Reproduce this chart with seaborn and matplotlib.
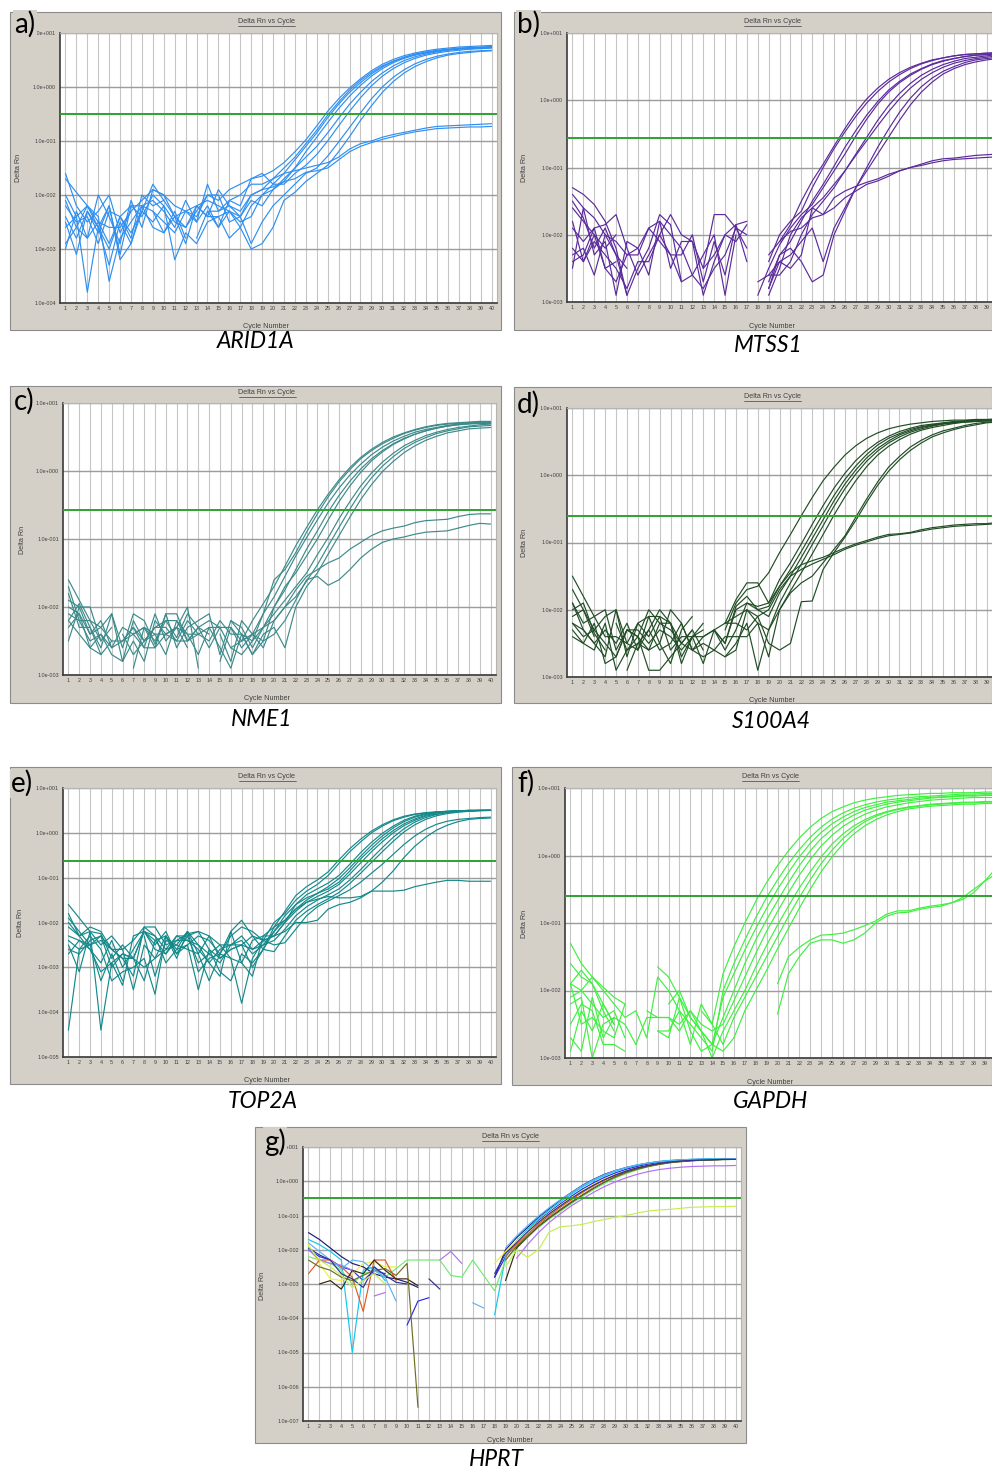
import matplotlib
matplotlib.use("Agg")
import matplotlib.pyplot as plt
from matplotlib.patches import Rectangle
from matplotlib.lines import Line2D
from matplotlib.ticker import NullLocator
import seaborn as sns
import pandas as pd

# amplification plots, values are log10(Delta Rn), None = no point

cycles = list(range(1, 41))

arid1a = [
    [-1.6, -2.2, -2.5, -2.3, -2.0, -2.7, -2.3, -2.1, -1.9, -2.0,
     -2.2, -2.3, -2.4, -2.0, -2.1, -1.9, -1.8, -1.7, -1.65, -1.55,
     -1.4, -1.2, -0.98, -0.72, -0.45, -0.22, -0.02, 0.15, 0.3, 0.42,
     0.51, 0.58, 0.63, 0.67, 0.7, 0.72, 0.74, 0.75, 0.76, 0.77],
    [-2.0, -2.4, -2.2, -2.6, -3.3, -2.5, -2.9, -2.2, -2.1, -2.3,
     -2.6, -2.1, -2.5, -1.8, -2.3, -2.2, -2.4, -2.0, -1.9, -1.7,
     -1.5, -1.3, -1.05, -0.8, -0.52, -0.28, -0.06, 0.12, 0.27, 0.39,
     0.48, 0.55, 0.6, 0.64, 0.67, 0.69, 0.71, 0.72, 0.73, 0.74],
    [-2.9, -2.6, -2.2, -2.5, -2.9, -2.4, -2.7, -2.3, -1.8, -2.1,
     None, None, -2.8, -2.3, -2.6, -2.1, -2.2, -1.7, -1.6, -1.8,
     -1.6, -1.35, -1.1, -0.85, -0.57, -0.32, -0.1, 0.08, 0.24, 0.37,
     0.47, 0.55, 0.61, 0.65, 0.68, 0.7, 0.72, 0.73, 0.74, 0.75],
    [-2.6, -2.4, -3.8, -2.6, -2.2, -3.1, -2.2, -2.4, -2.0, -2.2,
     -2.5, -2.6, -2.2, -2.1, -2.2, -2.3, -2.5, -2.4, -2.0, -1.9,
     -1.75, -1.5, -1.2, -0.93, -0.66, -0.4, -0.17, 0.03, 0.2, 0.34,
     0.45, 0.53, 0.59, 0.63, 0.66, 0.69, 0.71, 0.72, 0.73, 0.74],
    [-1.7, -1.95, -2.2, -2.4, -3.6, -2.8, -2.5, -2.2, -2.3, -2.7,
     -2.4, -2.9, -2.2, -2.4, -2.4, -2.8, -2.6, -2.2, -2.0, -1.8,
     -1.8, -1.6, -1.45, -1.25, -1.0, -0.72, -0.45, -0.2, 0.02, 0.2,
     0.34, 0.45, 0.53, 0.59, 0.63, 0.66, 0.68, 0.7, 0.71, 0.72],
    [-2.1, -2.6, -2.8, -2.5, -2.6, -2.6, -2.3, None, -2.3, -2.5,
     -2.7, -2.3, -2.5, -2.2, -2.6, -2.3, -2.4, -2.9, -2.5, -2.2,
     -2.0, -1.8, -1.6, -1.5, -1.28, -1.02, -0.75, -0.48, -0.22, 0.0,
     0.18, 0.32, 0.43, 0.51, 0.57, 0.61, 0.64, 0.66, 0.67, 0.68],
    [-2.4, -2.8, -2.3, -2.7, -2.2, -3.2, -2.9, -2.3, -2.5, -2.2,
     -3.2, -2.7, -2.9, -2.5, -2.4, -2.3, -2.6, -3.0, -2.9, -2.6,
     -2.1, -1.95, -1.75, -1.6, -1.45, -1.2, -0.92, -0.62, -0.35, -0.1,
     0.1, 0.26, 0.38, 0.47, 0.54, 0.59, 0.62, 0.64, 0.66, 0.67],
    [-3.0, -2.3, -2.8, -2.0, -2.4, -2.9, -2.1, -2.6, -1.9, -2.0,
     -2.4, -2.6, -2.3, -2.0, -2.0, -2.5, -2.4, -2.1, -2.2, -1.9,
     -1.7, -1.5, -1.3, -1.1, -0.85, -0.58, -0.32, -0.1, 0.1, 0.26,
     0.39, 0.49, 0.56, 0.61, 0.65, 0.68, 0.7, 0.71, 0.72, 0.73],
    [-2.2, -2.5, -2.4, -2.9, -2.3, -2.4, -2.2, -2.2, -2.6, -2.7,
     -2.3, -2.8, None, -2.3, -2.3, -2.1, -2.0, -1.8, -1.8, -1.7,
     -1.6, -1.55, -1.5, -1.45, -1.4, -1.3, -1.15, -1.05, -1.0, -0.93,
     -0.88, -0.84, -0.8, -0.76, -0.73, -0.72, -0.71, -0.7, -0.69, -0.68],
    [-2.5, -3.1, -2.3, -2.6, -3.0, -2.4, -2.8, -2.0, -2.2, -2.1,
     -2.4, -2.3, -2.2, -2.4, -1.9, -2.2, -2.3, -2.0, -1.9, -1.85,
     -1.75, -1.7, -1.58, -1.55, -1.5, -1.35, -1.2, -1.1, -1.03, -0.97,
     -0.92, -0.87, -0.83, -0.8, -0.77, -0.76, -0.75, -0.74, -0.74, -0.73],
]

mtss1 = [
    [-1.3, -1.4, -1.55, -1.8, -2.2, -2.9, -2.5, -2.2, -1.7, -1.85,
     -2.7, None, -2.5, -1.7, -1.7, -1.9, -2.0, None, None, -2.1,
     -1.85, -1.5, -1.2, -0.95, -0.68, -0.42, -0.18, 0.02, 0.18, 0.31,
     0.41, 0.49, 0.55, 0.6, 0.63, 0.66, 0.68, 0.69, 0.7, 0.71],
    [-1.5, -1.75, -2.2, -1.9, -2.3, -2.5, None, None, None, None,
     None, None, None, None, None, None, None, None, -2.4, -2.0,
     -1.8, -1.65, -1.3, -1.0, -0.72, -0.47, -0.24, -0.04, 0.13, 0.27,
     0.38, 0.47, 0.54, 0.59, 0.63, 0.66, 0.68, 0.69, 0.7, 0.7],
    [-1.9, -2.1, -1.9, -1.85, -1.7, -2.2, -2.6, -2.3, -2.0, -1.7,
     -2.0, -2.1, -2.9, -2.4, -2.0, -1.85, -1.8, None, -2.7, -2.3,
     -2.1, -1.8, -1.5, -1.25, -0.98, -0.7, -0.45, -0.22, -0.02, 0.15,
     0.28, 0.39, 0.47, 0.54, 0.59, 0.62, 0.65, 0.67, 0.68, 0.69],
    [-1.6, -1.8, -2.0, -2.2, -2.0, None, None, None, None, None,
     None, None, None, None, None, None, None, -2.9, -2.5, -2.15,
     -1.9, -1.7, -1.55, -1.3, -1.05, -0.8, -0.53, -0.28, -0.06, 0.12,
     0.26, 0.37, 0.46, 0.53, 0.58, 0.62, 0.65, 0.67, 0.68, 0.69],
    [-2.3, -2.2, -2.6, -2.0, -2.1, -2.3, -2.3, -1.9, -2.1, -2.3,
     -2.3, -2.0, -2.7, -2.1, -2.6, -1.85, -2.4, None, -2.6, -2.6,
     -2.4, -2.0, -1.7, -1.5, -1.3, -1.05, -0.8, -0.55, -0.3, -0.08,
     0.1, 0.25, 0.37, 0.46, 0.53, 0.58, 0.62, 0.64, 0.66, 0.68],
    [-2.5, -1.6, -2.3, -2.1, -2.9, -2.1, -2.2, -2.6, -1.8, -2.0,
     -2.2, -2.6, -2.8, -2.5, -2.3, -1.9, -2.2, None, -2.8, -2.3,
     -2.2, -2.4, -2.7, -2.6, -2.0, -1.65, -1.3, -1.0, -0.7, -0.43,
     -0.18, 0.03, 0.2, 0.33, 0.43, 0.5, 0.56, 0.6, 0.62, 0.64],
    [-2.2, -2.4, -2.1, -2.3, -2.5, -2.8, -2.4, -2.4, -2.0, -2.3,
     -2.7, -2.6, -2.3, -2.0, -2.9, -2.0, None, -2.7, -2.6, -2.4,
     -2.3, -2.1, -1.9, -2.4, -1.9, -1.6, -1.3, -1.05, -0.8, -0.55,
     -0.3, -0.07, 0.12, 0.27, 0.39, 0.47, 0.53, 0.57, 0.6, 0.62],
    [-1.8, -2.4, -2.0, -2.5, -2.7, -2.3, -2.2, -1.9, -1.8, -2.5,
     -2.1, -2.1, -2.5, -2.3, -2.0, -2.1, -1.85, None, -2.9, -2.5,
     -2.0, -1.75, -1.6, -1.45, -1.25, -1.05, -0.82, -0.6, -0.38, -0.17,
     0.02, 0.18, 0.31, 0.41, 0.49, 0.55, 0.59, 0.62, 0.64, 0.66],
    [-1.4, -1.6, -1.75, -2.0, -2.3, -2.9, None, None, None, None,
     None, None, None, None, None, None, None, None, -2.8, -2.4,
     -2.5, -2.3, -1.6, -1.7, -1.6, -1.45, -1.35, -1.25, -1.2, -1.13,
     -1.05, -1.0, -0.95, -0.9, -0.87, -0.86, -0.84, -0.82, -0.81, -0.8],
    [-2.4, -2.3, -1.9, -2.5, -2.4, None, None, None, None, None,
     None, None, None, None, None, None, None, None, -2.3, -2.1,
     -1.95, -1.9, -1.75, -1.7, -1.45, -1.35, -1.28, -1.22, -1.17, -1.1,
     -1.05, -1.0, -0.97, -0.93, -0.9, -0.88, -0.87, -0.86, -0.85, -0.84],
]

nme1 = [
    [-1.6, -1.9, -2.2, -2.3, -2.1, -2.8, -2.2, -2.5, -2.3, -2.2,
     -2.45, -2.1, -2.3, -2.6, -2.3, -2.6, -2.5, -2.2, -1.95, -1.7,
     -1.4, -1.1, -0.83, -0.57, -0.34, -0.13, 0.05, 0.2, 0.32, 0.42,
     0.5, 0.56, 0.61, 0.65, 0.68, 0.7, 0.71, 0.72, 0.73, 0.73],
    [-1.9, -2.0, -2.0, -2.5, -2.3, None, -2.4, -2.6, -2.1, -2.5,
     -2.3, -2.0, -2.9, None, -2.4, -2.8, -2.2, -2.4, -2.1, -1.6,
     -1.45, -1.2, -0.9, -0.63, -0.38, -0.16, 0.02, 0.18, 0.3, 0.4,
     0.48, 0.55, 0.6, 0.64, 0.67, 0.69, 0.7, 0.71, 0.72, 0.72],
    [-2.2, -1.95, -2.3, -2.6, -2.1, -2.6, -2.1, -2.2, -2.55, -2.1,
     -2.6, -2.3, -2.2, -2.1, -2.7, -2.2, -2.4, -2.5, -2.1, -1.85,
     -1.55, -1.25, -0.98, -0.72, -0.47, -0.25, -0.06, 0.1, 0.24, 0.35,
     0.44, 0.51, 0.57, 0.61, 0.64, 0.67, 0.69, 0.7, 0.71, 0.71],
    [-1.8, -2.3, -2.3, -2.7, -2.5, None, -2.9, -2.3, -2.4, -2.7,
     -2.2, -2.5, -2.4, -2.3, -2.6, -2.9, -2.4, -2.7, -2.5, -2.0,
     -1.75, -1.45, -1.15, -0.88, -0.6, -0.36, -0.15, 0.03, 0.18, 0.3,
     0.4, 0.48, 0.54, 0.59, 0.63, 0.66, 0.68, 0.69, 0.7, 0.7],
    [-2.0, -2.1, -2.6, -2.4, -2.7, -2.8, -2.5, -2.8, -2.2, -2.4,
     -2.3, -2.6, None, None, None, -2.2, -2.3, -2.6, -2.3, -2.1,
     -1.9, -1.7, -1.5, -1.23, -0.98, -0.7, -0.45, -0.22, -0.03, 0.13,
     0.26, 0.37, 0.45, 0.52, 0.57, 0.61, 0.64, 0.66, 0.68, 0.69],
    [-2.3, -2.1, -2.4, -2.2, -2.6, -2.3, -2.4, -2.3, -2.5, -2.2,
     -2.2, -2.4, -2.7, -2.3, -2.3, -2.3, -2.6, -2.4, -2.6, -2.2,
     -2.0, -1.85, -1.62, -1.38, -1.1, -0.83, -0.56, -0.31, -0.1, 0.07,
     0.21, 0.33, 0.42, 0.49, 0.55, 0.59, 0.62, 0.65, 0.66, 0.67],
    [-1.7, -2.2, -2.2, -2.5, None, -2.4, -2.7, -2.5, -2.3, -2.3,
     -2.5, -2.2, -2.4, -2.5, -2.2, -2.4, -2.4, -2.7, -2.4, -2.3,
     -2.6, -2.0, -1.7, -1.5, -1.22, -0.95, -0.68, -0.42, -0.2, -0.01,
     0.14, 0.27, 0.37, 0.45, 0.51, 0.56, 0.59, 0.62, 0.63, 0.64],
    [-2.5, -2.0, -2.4, -2.3, -2.5, -2.5, -2.4, -2.3, -2.6, -2.1,
     -2.1, -2.5, -2.3, -2.4, None, -2.6, -2.7, -2.5, -2.3, -2.0,
     -1.7, -1.5, -1.25, -1.0, -0.72, -0.45, -0.22, -0.02, 0.15, 0.28,
     0.39, 0.47, 0.54, 0.59, 0.63, 0.66, 0.68, 0.7, 0.71, 0.71],
    [-2.1, -2.2, -2.5, -2.4, -2.6, -2.5, -2.3, -2.6, -2.6, -2.4,
     -2.5, -2.5, -2.3, -2.2, -2.3, None, -2.5, -2.4, -2.3, -2.2,
     -2.0, -1.75, -1.55, -1.45, -1.35, -1.28, -1.15, -1.05, -0.95, -0.88,
     -0.84, -0.81, -0.76, -0.73, -0.72, -0.71, -0.67, -0.64, -0.63, -0.63],
    [-2.2, -2.4, -2.6, -2.7, None, -2.5, -2.3, -2.5, -2.4, -2.4,
     -2.3, -2.4, -2.4, None, -2.8, -2.3, -2.5, -2.4, -2.5, -2.4,
     -2.2, -1.9, -1.6, -1.55, -1.68, -1.6, -1.45, -1.28, -1.15, -1.05,
     -1.0, -0.97, -0.93, -0.9, -0.89, -0.88, -0.84, -0.8, -0.77, -0.78],
]

s100a4 = [
    [-1.5, -1.8, -2.1, -2.0, -2.6, -2.3, -2.4, -2.0, -2.2, -2.3,
     -2.5, -2.3, -2.6, None, -2.3, -1.9, -1.7, -1.65, -1.45, -1.15,
     -0.88, -0.6, -0.33, -0.08, 0.12, 0.3, 0.44, 0.55, 0.63, 0.69,
     0.73, 0.76, 0.78, 0.8, 0.81, 0.82, 0.82, 0.83, 0.83, 0.84],
    [-1.7, -2.0, -2.3, -2.1, -2.0, -2.7, -2.2, -2.1, -2.1, -2.2,
     -2.7, -2.4, -2.2, None, -2.2, -1.85, -1.6, -1.6, -1.9, -1.55,
     -1.3, -1.02, -0.73, -0.45, -0.19, 0.03, 0.22, 0.37, 0.49, 0.58,
     0.65, 0.7, 0.74, 0.76, 0.78, 0.8, 0.81, 0.82, 0.82, 0.83],
    [-2.0, -1.9, -2.35, -2.6, None, -2.9, -2.5, -2.6, -2.5, -2.0,
     -2.2, -2.6, -2.4, -2.3, -2.5, -1.95, -1.8, -2.0, -1.95, -1.65,
     -1.4, -1.13, -0.85, -0.57, -0.3, -0.06, 0.14, 0.31, 0.45, 0.55,
     0.62, 0.68, 0.72, 0.75, 0.77, 0.79, 0.8, 0.81, 0.82, 0.82],
    [-2.2, -2.3, -2.5, -2.7, -2.0, -2.5, -2.2, -2.4, -2.1, -2.6,
     -2.4, -2.4, -2.8, -2.3, -2.6, -2.3, -1.9, -2.0, -2.1, -1.75,
     -1.5, -1.22, -0.94, -0.66, -0.38, -0.13, 0.08, 0.26, 0.4, 0.51,
     0.6, 0.66, 0.71, 0.74, 0.77, 0.78, 0.8, 0.81, 0.81, 0.82],
    [-1.9, -2.2, -2.1, -2.4, -2.4, -2.5, -2.6, -2.3, -2.0, -2.2,
     -2.5, -2.3, None, None, -2.2, -2.1, -2.0, -2.2, -2.3, -1.9,
     -1.6, -1.32, -1.03, -0.75, -0.46, -0.2, 0.02, 0.21, 0.36, 0.48,
     0.57, 0.64, 0.69, 0.73, 0.76, 0.78, 0.79, 0.8, 0.81, 0.82],
    [-2.4, -2.5, -2.2, -2.8, -2.7, -2.3, -2.4, -2.9, -2.9, -2.7,
     -2.5, -2.6, -2.5, -2.6, -2.4, -2.4, -2.4, -2.2, -2.7, -2.0,
     -1.72, -1.45, -1.17, -0.88, -0.59, -0.32, -0.08, 0.13, 0.3, 0.43,
     0.53, 0.61, 0.67, 0.71, 0.74, 0.77, 0.79, 0.8, 0.81, 0.81],
    [-2.2, -2.4, -2.3, -2.5, -2.7, -2.3, -2.3, -2.5, -2.3, -2.4,
     -2.6, -2.4, -2.3, None, -2.7, -2.5, -2.2, -2.9, -2.3, -2.0,
     -1.75, -1.6, -1.5, -1.3, -1.1, -0.9, -0.62, -0.35, -0.1, 0.12,
     0.28, 0.42, 0.52, 0.6, 0.66, 0.7, 0.74, 0.77, 0.79, 0.8],
    [-2.3, -2.5, -2.6, -2.2, -2.9, -2.6, -2.5, -2.3, -2.6, -2.5,
     -2.2, -2.6, -2.7, -2.6, -2.7, -2.6, -2.0, -2.1, -2.5, -2.6,
     -2.5, -1.88, -1.87, -1.4, -1.15, -0.92, -0.67, -0.4, -0.15, 0.06,
     0.23, 0.37, 0.48, 0.57, 0.63, 0.68, 0.72, 0.75, 0.78, 0.79],
    [-2.1, -2.0, -2.4, None, -2.2, -2.6, -2.4, -2.6, -2.2, -2.2,
     -2.8, -2.4, -2.4, -2.3, -2.5, -2.0, -1.9, -1.95, -1.9, -1.65,
     -1.45, -1.33, -1.27, -1.22, -1.15, -1.08, -1.02, -0.97, -0.92, -0.88,
     -0.87, -0.85, -0.81, -0.78, -0.76, -0.74, -0.73, -0.72, -0.72, -0.7],
    [-1.9, -2.3, -2.5, -2.3, -2.5, -2.2, -2.6, -2.1, -2.5, -2.8,
     -2.3, -2.1, None, -2.3, -2.2, -2.2, -2.3, -2.1, -2.0, -1.7,
     -1.5, -1.4, -1.32, -1.25, -1.18, -1.1, -1.04, -0.99, -0.94, -0.9,
     -0.88, -0.86, -0.83, -0.8, -0.78, -0.76, -0.75, -0.74, -0.73, -0.72],
]

top2a = [
    [-1.9, -2.2, -2.5, -2.3, -2.6, -2.8, -3.2, -2.1, -2.3, -2.6,
     -2.5, -2.2, -2.5, -2.9, -3.2, -2.2, -1.95, -2.3, -2.6, -2.1,
     -1.75, -1.4, -1.2, -1.05, -0.87, -0.6, -0.35, -0.14, 0.04, 0.18,
     0.29, 0.37, 0.42, 0.45, 0.47, 0.48, 0.49, 0.49, 0.5, 0.5],
    [-1.6, -1.9, -2.2, -2.5, -2.3, -2.6, -2.4, -2.1, -2.1, -2.5,
     -2.4, -2.25, -2.2, -2.6, -2.8, -2.6, -2.5, -2.3, -2.4, -2.0,
     -1.8, -1.5, -1.3, -1.15, -0.95, -0.68, -0.42, -0.2, 0.0, 0.15,
     0.27, 0.35, 0.41, 0.44, 0.46, 0.48, 0.49, 0.5, 0.5, 0.5],
    [-2.1, -2.3, -2.6, -3.1, -2.9, -3.4, -2.3, -2.2, -2.6, -2.7,
     -2.3, -2.4, -2.6, -2.9, -2.6, -2.5, -2.5, -3.0, -2.6, -2.2,
     -1.85, -1.6, -1.45, -1.35, -1.25, -1.1, -0.85, -0.58, -0.35, -0.13,
     0.05, 0.2, 0.31, 0.39, 0.44, 0.47, 0.49, 0.5, 0.5, 0.51],
    [-2.3, -2.4, -2.5, -2.4, -2.6, -2.6, -3.5, -2.5, -2.8, -2.6,
     -2.3, -2.3, -2.2, -2.3, -2.5, -2.8, -2.9, -3.2, -2.3, -2.3,
     -2.0, -1.75, -1.55, -1.42, -1.3, -1.15, -0.92, -0.67, -0.42, -0.2,
     0.0, 0.16, 0.28, 0.37, 0.42, 0.46, 0.48, 0.49, 0.5, 0.5],
    [-2.6, -2.7, -2.4, -2.3, -3.0, -2.7, -2.8, -3.3, -2.4, -2.7,
     -2.4, -2.4, -2.5, -2.7, -2.9, -2.5, -2.4, -2.7, -2.5, -2.4,
     -2.15, -1.85, -1.65, -1.5, -1.38, -1.25, -1.05, -0.82, -0.57, -0.33,
     -0.1, 0.09, 0.24, 0.34, 0.41, 0.45, 0.47, 0.49, 0.5, 0.5],
    [-4.4, -2.6, -2.3, -2.6, -3.3, -3.1, -3.0, -2.8, -3.6, -2.3,
     -2.7, -2.5, -3.5, -2.6, -3.1, -3.3, -2.7, -2.9, -2.6, -2.65,
     -2.3, -1.95, -1.75, -1.6, -1.47, -1.33, -1.13, -0.9, -0.66, -0.42,
     -0.19, 0.02, 0.18, 0.3, 0.38, 0.43, 0.46, 0.48, 0.49, 0.5],
    [-2.4, -2.6, -2.5, -3.3, -2.7, -3.3, None, -2.3, -3.2, -2.4,
     -2.5, -2.6, -2.7, -3.3, -2.7, -2.8, -3.8, -2.8, -2.4, -2.5,
     -2.45, -2.15, -1.85, -1.65, -1.52, -1.4, -1.27, -1.1, -0.9, -0.7,
     -0.48, -0.26, -0.07, 0.08, 0.19, 0.26, 0.3, 0.32, 0.34, 0.35],
    [-2.5, -3.1, -2.2, -4.4, -2.9, -2.7, -2.8, -3.0, -2.8, -2.3,
     -2.8, -2.2, -3.1, -2.8, -2.7, -2.3, -2.1, -2.2, -2.4, -2.3,
     -2.2, -2.0, -2.0, -1.95, -1.7, -1.6, -1.55, -1.45, -1.3, -1.1,
     -0.85, -0.55, -0.3, -0.1, 0.06, 0.17, 0.25, 0.3, 0.32, 0.33],
    [-2.0, -2.3, -2.1, -2.2, -2.6, -2.8, -2.8, -2.2, -2.5, -2.2,
     -2.7, -2.3, -2.9, -2.7, -2.5, -2.5, -2.3, -2.6, -2.4, -2.3,
     -2.0, -1.6, -1.38, -1.25, -1.12, -0.95, -0.7, -0.44, -0.21, -0.01,
     0.15, 0.28, 0.37, 0.43, 0.46, 0.48, 0.49, 0.5, 0.5, 0.5],
    [-2.7, -2.4, -2.6, -2.9, -2.4, -3.0, -2.6, -2.2, -2.3, -2.9,
     -2.6, -2.2, -2.7, -2.3, -2.8, -2.6, -2.5, -2.6, -2.5, -2.2,
     -1.95, -1.7, -1.55, -1.48, -1.42, -1.45, -1.45, -1.42, -1.3, -1.3,
     -1.3, -1.28, -1.2, -1.15, -1.1, -1.06, -1.06, -1.08, -1.08, -1.08],
    [-1.8, -2.3, -2.2, -2.25, -2.8, -2.5, -2.8, -2.2, -2.4, -2.3,
     -2.6, -2.5, -2.3, -2.4, -2.7, -2.2, -2.9, -2.4, -2.3, -2.1,
     -1.95, -1.7, -1.5, -1.35, -1.2, -1.02, -0.78, -0.52, -0.28, -0.07,
     0.11, 0.25, 0.35, 0.41, 0.45, 0.47, 0.49, 0.5, 0.5, 0.5],
]

gapdh = [
    [-1.6, -1.8, -1.9, -2.2, -2.5, None, None, None, None, None,
     None, None, -2.3, -2.5, -1.75, -1.35, -1.0, -0.68, -0.4, -0.15,
     0.07, 0.26, 0.42, 0.55, 0.65, 0.72, 0.78, 0.82, 0.85, 0.87,
     0.89, 0.9, 0.91, 0.92, 0.92, 0.93, 0.93, 0.93, 0.94, 0.94],
    [-1.3, -1.6, -1.8, -2.0, -2.2, -2.4, -2.3, -2.7, -1.8, -2.0,
     -2.3, -2.5, -2.7, -2.9, -2.0, -1.6, -1.25, -0.92, -0.62, -0.36,
     -0.12, 0.09, 0.27, 0.42, 0.54, 0.63, 0.7, 0.75, 0.79, 0.82,
     0.84, 0.86, 0.87, 0.88, 0.89, 0.9, 0.91, 0.91, 0.92, 0.92],
    [-1.9, -1.7, -1.9, -2.3, -2.6, None, -2.8, -2.4, -2.4, -2.4,
     -2.5, -2.3, -2.6, -2.8, -2.1, -1.75, -1.4, -1.08, -0.78, -0.5,
     -0.25, -0.02, 0.18, 0.34, 0.47, 0.57, 0.65, 0.71, 0.75, 0.79,
     0.81, 0.83, 0.85, 0.86, 0.87, 0.88, 0.89, 0.89, 0.9, 0.9],
    [-2.1, -2.0, -1.8, -1.95, -2.1, -2.2, None, None, -1.65, -1.8,
     -2.1, -2.4, -2.6, -2.8, -2.4, -2.0, -1.6, -1.25, -0.95, -0.67,
     -0.4, -0.15, 0.07, 0.25, 0.39, 0.51, 0.6, 0.67, 0.72, 0.76,
     0.79, 0.81, 0.83, 0.85, 0.86, 0.87, 0.88, 0.88, 0.89, 0.89],
    [-1.9, -2.0, -2.2, -2.4, -2.3, -2.7, None, -2.3, -2.4, -2.4,
     -2.6, -2.3, -2.5, -2.6, -2.5, -2.15, -1.8, -1.45, -1.12, -0.83,
     -0.55, -0.29, -0.06, 0.14, 0.3, 0.43, 0.53, 0.61, 0.67, 0.72,
     0.75, 0.78, 0.8, 0.82, 0.83, 0.84, 0.85, 0.86, 0.86, 0.86],
    [-2.7, -2.9, -2.1, -2.7, -2.4, None, None, None, None, -2.2,
     -2.0, -2.4, -2.6, -3.0, -2.6, -2.3, -2.0, -1.65, -1.33, -1.03,
     -0.75, -0.48, -0.24, -0.02, 0.17, 0.32, 0.44, 0.53, 0.6, 0.65,
     0.69, 0.72, 0.74, 0.76, 0.77, 0.78, 0.79, 0.79, 0.8, 0.8],
    [-2.2, -2.1, -3.0, -2.5, -2.4, -2.5, -2.8, None, -2.6, -2.6,
     -2.3, -2.8, -2.2, -2.5, -2.8, -2.4, -2.1, -1.8, -1.5, -1.2,
     -0.9, -0.62, -0.36, -0.12, 0.08, 0.25, 0.39, 0.5, 0.58, 0.64,
     0.68, 0.71, 0.73, 0.75, 0.76, 0.77, 0.78, 0.78, 0.79, 0.79],
    [-2.5, -2.2, -2.3, -2.8, -2.8, -2.9, None, None, -2.6, -2.7,
     -2.1, -2.6, -2.9, -2.8, -2.9, -2.7, -2.3, -2.0, -1.7, -1.38,
     -1.08, -0.78, -0.5, -0.24, -0.02, 0.17, 0.32, 0.44, 0.53, 0.6,
     0.65, 0.69, 0.71, 0.73, 0.74, 0.75, 0.76, 0.76, 0.77, 0.77],
    [-2.9, -2.3, -2.6, -2.2, -2.5, None, None, None, None, None,
     None, None, None, None, None, None, None, None, None, -2.35,
     -1.75, -1.5, -1.3, -1.25, -1.25, -1.3, -1.25, -1.15, -1.0, -0.9,
     -0.85, -0.84, -0.8, -0.77, -0.75, -0.7, -0.62, -0.5, -0.38, -0.28],
    [-1.9, -2.5, -2.4, -2.6, -2.7, -2.2, None, None, None, None,
     None, None, None, None, None, None, None, None, None, -1.9,
     -1.5, -1.36, -1.25, -1.18, -1.17, -1.15, -1.1, -1.04, -0.97, -0.87,
     -0.82, -0.82, -0.78, -0.75, -0.73, -0.7, -0.65, -0.55, -0.38, -0.2],
]

hprt = [
    [-1.5, -1.7, -1.95, -2.2, -2.4, -2.5, -2.7, -2.8, -2.85, -2.95,
     -3.1, None, None, None, None, None, None, -2.8, -2.0, -1.65,
     -1.35, -1.05, -0.8, -0.55, -0.33, -0.12, 0.05, 0.2, 0.31, 0.4,
     0.47, 0.53, 0.57, 0.6, 0.62, 0.63, 0.64, 0.65, 0.65, 0.66],
    [-2.0, -2.2, -2.3, -2.5, -2.6, -2.9, -2.6, -2.7, None, -4.2,
     -3.5, -3.4, None, None, None, None, None, -2.8, -2.2, -1.75,
     -1.45, -1.15, -0.9, -0.66, -0.44, -0.23, -0.05, 0.11, 0.24, 0.35,
     0.43, 0.5, 0.55, 0.58, 0.61, 0.62, 0.63, 0.64, 0.65, 0.65],
    [-1.7, -1.85, -2.05, -2.3, -5.0, -2.6, -2.5, -2.9, None, None,
     None, None, None, None, None, None, None, -3.9, -2.2, -1.75,
     -1.4, -1.1, -0.84, -0.6, -0.38, -0.17, 0.01, 0.16, 0.29, 0.39,
     0.47, 0.53, 0.58, 0.61, 0.63, 0.64, 0.65, 0.66, 0.66, 0.66],
    [-2.2, -2.3, -2.4, -2.6, -3.0, -2.7, -2.6, -2.8, -2.55, -2.3,
     -2.3, -2.3, -2.3, -2.75, -2.8, -2.3, -2.75, -3.2, -2.3, -1.95,
     -1.65, -1.35, -1.1, -0.88, -0.66, -0.45, -0.25, -0.07, 0.09, 0.22,
     0.33, 0.42, 0.49, 0.54, 0.58, 0.6, 0.62, 0.63, 0.64, 0.64],
    [-1.85, -2.4, -2.85, -2.9, -2.7, -2.4, -2.35, -2.5, -2.5, None,
     None, None, None, None, None, None, None, -2.4, -2.05, -1.75,
     -1.45, -1.18, -0.93, -0.7, -0.48, -0.28, -0.1, 0.06, 0.19, 0.3,
     0.39, 0.46, 0.51, 0.55, 0.58, 0.6, 0.62, 0.63, 0.64, 0.64],
    [-2.7, -2.3, -2.3, -2.5, -2.8, -3.8, -2.3, -2.3, -2.9, None,
     None, None, None, None, None, None, None, None, -2.2, -1.85,
     -1.55, -1.25, -1.0, -0.76, -0.54, -0.33, -0.14, 0.03, 0.17, 0.29,
     0.39, 0.46, 0.52, 0.56, 0.59, 0.61, 0.62, 0.63, 0.64, 0.64],
    [None, -3.0, -2.9, -3.15, -2.6, -2.7, -2.3, -2.6, -2.85, -2.85,
     -3.05, None, None, None, None, None, None, None, -2.9, -1.95,
     -1.62, -1.32, -1.07, -0.84, -0.62, -0.41, -0.21, -0.03, 0.13, 0.26,
     0.36, 0.44, 0.5, 0.55, 0.58, 0.6, 0.62, 0.63, 0.64, 0.65],
    [-2.3, -2.5, -2.6, -2.8, -2.9, -2.75, -2.6, -2.55, -2.75, -2.4,
     -6.6, None, None, None, None, None, None, None, -2.3, -1.9,
     -1.6, -1.3, -1.05, -0.82, -0.6, -0.4, -0.2, -0.03, 0.12, 0.25,
     0.35, 0.43, 0.49, 0.54, 0.57, 0.6, 0.61, 0.62, 0.63, 0.64],
    [-2.0, -2.3, -2.4, -2.45, -2.6, None, -3.35, -3.25, None, None,
     None, None, -2.3, -2.05, -2.4, None, None, None, None, -2.25,
     -1.85, -1.5, -1.2, -0.95, -0.72, -0.52, -0.33, -0.16, -0.02, 0.1,
     0.2, 0.28, 0.34, 0.38, 0.41, 0.43, 0.44, 0.45, 0.45, 0.46],
    [-1.8, -2.05, -2.3, -2.55, -2.3, -2.35, -2.6, -2.8, -3.5, None,
     None, None, None, None, None, -3.55, -3.7, None, -1.95, -1.6,
     -1.3, -1.02, -0.77, -0.54, -0.33, -0.13, 0.04, 0.19, 0.31, 0.4,
     0.48, 0.53, 0.57, 0.6, 0.62, 0.64, 0.65, 0.65, 0.66, 0.66],
    [-1.95, -2.15, -2.3, -2.7, -2.85, -3.1, -2.5, -2.75, -2.95, -3.0,
     None, -2.85, -3.15, None, None, None, None, -2.7, -2.1, -1.8,
     -1.48, -1.2, -0.95, -0.72, -0.5, -0.3, -0.12, 0.04, 0.18, 0.3,
     0.39, 0.46, 0.52, 0.56, 0.59, 0.61, 0.62, 0.63, 0.64, 0.64],
    [-1.9, -2.3, -2.5, -2.75, -3.1, -2.9, -2.7, -3.0, None, None,
     None, None, None, None, None, None, None, None, -2.5, -2.0,
     -2.22, -2.0, -1.48, -1.33, -1.3, -1.26, -1.18, -1.12, -1.05, -1.0,
     -0.93, -0.87, -0.84, -0.82, -0.79, -0.76, -0.75, -0.74, -0.74, -0.73],
]

# threshold (Delta Rn) and lowest decade of each panel
thresholds = [0.31, 0.275, 0.27, 0.245, 0.24, 0.25, 0.32]
low_decades = [-4, -3, -3, -3, -5, -3, -7]
genes = ["ARID1A", "MTSS1", "NME1", "S100A4", "TOP2A", "GAPDH", "HPRT"]
letters = ["a)", "b)", "c)", "d)", "e)", "f)", "g)"]
# right-hand panels are cropped, the last cycle label falls outside the picture
last_label_shown = [40, 39, 40, 39, 40, 39, 40]

hprt_colors = ["#1c1c72", "#2a2ae6", "#12c6f0", "#72e872", "#eeee44", "#e05a22",
               "#3a2412", "#6e6e22", "#b070f6", "#5cb2f6", "#303094", "#c6ee52"]
line_colors = ["#2f8ff0", "#5b2a9c", "#3d8a8a", "#204d24", "#14898a", "#3ef03e", hprt_colors]

FRAME = "#d4d0c8"
THRESH = "#2fa02f"
TXT = "#404040"

# pixel layout: frame, plot box, letter pos, gene label centre, title centre, xlabel, ylabel
layout = [
    dict(frame=(10, 12, 501, 330), box=(60, 33, 497, 303), letter=(14, 11), gene=(256, 342),
         title=(266, 21.5), xlab=(266, 326.5), ylab=(18, 168)),
    dict(frame=(514, 12, 992, 330), box=(567, 33, 1003, 302), letter=(517, 11), gene=(768, 345),
         title=(772, 21.5), xlab=(772, 326), ylab=(525, 168)),
    dict(frame=(10, 386, 501, 703), box=(63, 403, 496, 675), letter=(14, 388), gene=(262, 719),
         title=(267, 392.5), xlab=(267, 699), ylab=(22, 540)),
    dict(frame=(514, 387, 992, 703), box=(567, 408, 1003, 677), letter=(517, 391), gene=(771, 721),
         title=(772, 396.5), xlab=(772, 700), ylab=(525, 543)),
    dict(frame=(10, 767, 501, 1084), box=(63, 788, 496, 1057), letter=(11, 770), gene=(263, 1101),
         title=(267, 776.5), xlab=(267, 1080), ylab=(21, 923)),
    dict(frame=(512, 767, 992, 1085), box=(565, 788, 1001, 1058), letter=(517, 770), gene=(771, 1101),
         title=(770, 776.5), xlab=(770, 1082), ylab=(524, 924)),
    dict(frame=(255, 1127, 746, 1443), box=(303, 1147, 741, 1421), letter=(264, 1128), gene=(496, 1460),
         title=(510, 1137), xlab=(510, 1441), ylab=(263, 1286)),
]

W, H = 992, 1472

sns.set_style("white")
plt.rcParams["font.family"] = ["Liberation Sans", "DejaVu Sans"]

fig = plt.figure(figsize=(W / 100, H / 100), dpi=100)
fig.patch.set_facecolor("white")


def fx(x):
    return x / W


def fy(y):
    return 1 - y / H


def long_frame(curves):
    # one unit per unbroken run of points so gaps stay open
    rows = []
    seg = 0
    for well, vals in enumerate(curves):
        seg += 1
        for c, v in zip(cycles, vals):
            if v is None:
                seg += 1
                continue
            rows.append(("w%02d" % well, seg, c, 10.0 ** v))
    return pd.DataFrame(rows, columns=["well", "seg", "cycle", "rn"])


def draw_panel(curves, colors, lay, lo, thr, letter, gene, last_lab):
    x0, y0, x1, y1 = lay["frame"]
    fig.add_artist(Rectangle((fx(x0), fy(y1)), (x1 - x0) / W, (y1 - y0) / H,
                             transform=fig.transFigure, facecolor=FRAME,
                             edgecolor="#8c8c8c", lw=0.8, zorder=-2))
    bx0, by0, bx1, by1 = lay["box"]
    ax = fig.add_axes([fx(bx0), fy(by1), (bx1 - bx0) / W, (by1 - by0) / H])
    ax.set_facecolor("white")

    df = long_frame(curves)
    if isinstance(colors, str):
        sns.lineplot(data=df, x="cycle", y="rn", units="seg", estimator=None,
                     color=colors, lw=0.85, sort=False, legend=False, ax=ax)
    else:
        pal = dict(zip(sorted(df["well"].unique()), colors))
        sns.lineplot(data=df, x="cycle", y="rn", hue="well", units="seg", estimator=None,
                     palette=pal, lw=0.85, sort=False, legend=False, ax=ax)

    ax.set_yscale("log")
    ax.set_xlim(0.5, 40.5)
    ax.set_ylim(10.0 ** lo, 10.0)
    ax.set_xticks(cycles)
    ax.set_xticklabels([str(c) if c <= last_lab else "" for c in cycles])
    decades = list(range(lo, 2))
    ax.set_yticks([10.0 ** d for d in decades])
    ax.set_yticklabels(["1.0e%+04d" % d for d in decades])
    ax.yaxis.set_minor_locator(NullLocator())
    ax.tick_params(axis="x", length=0, labelsize=3.9, colors=TXT, pad=2.5)
    ax.tick_params(axis="y", length=0, labelsize=3.9, colors=TXT, pad=3)
    ax.grid(True, axis="x", color="#c6c6c6", lw=0.8)
    ax.grid(True, axis="y", color="#9c9c9c", lw=1.0)
    ax.set_axisbelow(True)
    ax.axhline(thr, color=THRESH, lw=1.4, zorder=5)
    ax.set_xlabel("")
    ax.set_ylabel("")
    for s in ["left", "bottom"]:
        ax.spines[s].set_color("#3a3a3a")
        ax.spines[s].set_linewidth(1.2)
    for s in ["top", "right"]:
        ax.spines[s].set_color("#b4b4b4")
        ax.spines[s].set_linewidth(0.8)

    t = fig.text(fx(lay["title"][0]), fy(lay["title"][1]), "Delta Rn vs Cycle",
                 fontsize=5.1, color=TXT, ha="center", va="center")
    bb = t.get_window_extent(renderer=fig.canvas.get_renderer())
    fig.add_artist(Line2D([bb.x0 / W, bb.x1 / W], [(bb.y0 - 0.6) / H] * 2,
                          transform=fig.transFigure, color=TXT, lw=0.5))
    fig.text(fx(lay["xlab"][0]), fy(lay["xlab"][1]), "Cycle Number",
             fontsize=5.2, color=TXT, ha="center", va="center")
    fig.text(fx(lay["ylab"][0]), fy(lay["ylab"][1]), "Delta Rn",
             fontsize=5.2, color=TXT, ha="center", va="center", rotation=90)
    fig.text(fx(lay["letter"][0]), fy(lay["letter"][1]), letter, fontsize=20,
             family=["Lato", "DejaVu Sans"], ha="left", va="top", color="black",
             bbox=dict(facecolor=FRAME, edgecolor="none", pad=1.0), zorder=10)
    fig.text(fx(lay["gene"][0]), fy(lay["gene"][1]), gene, fontsize=16.5,
             family=["Lato", "DejaVu Sans"], style="italic", ha="center", va="center",
             color="black")


all_curves = [arid1a, mtss1, nme1, s100a4, top2a, gapdh, hprt]
for i in range(7):
    draw_panel(all_curves[i], line_colors[i], layout[i], low_decades[i],
               thresholds[i], letters[i], genes[i], last_label_shown[i])

fig.savefig("out.png", dpi=100)
